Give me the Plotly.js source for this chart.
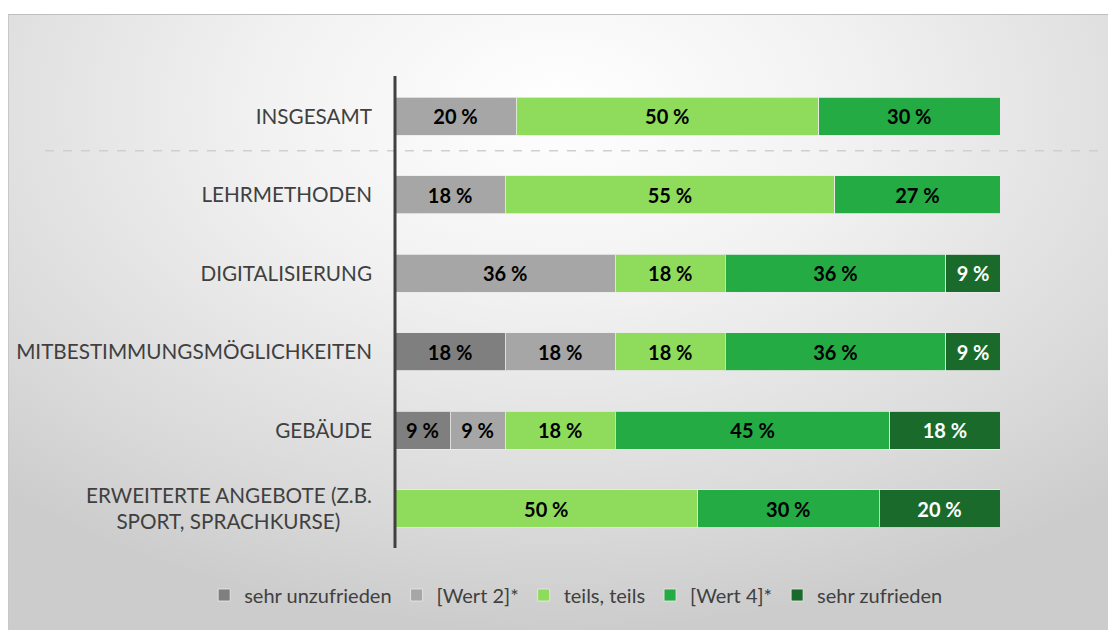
<!DOCTYPE html>
<html>
<head>
<meta charset="utf-8">
<script src="https://cdn.plot.ly/plotly-3.0.1.min.js"></script>
<style>
  html, body { margin: 0; padding: 0; background: #ffffff; }
  #frame {
    position: absolute; left: 8px; top: 14px; width: 1100px; height: 616px;
    background: radial-gradient(ellipse 75% 85% at 50% 15%, #ffffff 0%, #f2f2f2 35%, #d9d9d9 80%, #cccccc 100%);
    border-top: 1px solid #bfbfbf;
    border-left: 1px solid #c8c8c8;
  }
  #chart { position: absolute; left: 0; top: 0; width: 1108px; height: 630px; }
</style>
</head>
<body>
<div id="frame"></div>
<div id="chart"></div>
<script>
const categories = [
  "INSGESAMT",
  "LEHRMETHODEN",
  "DIGITALISIERUNG",
  "MITBESTIMMUNGSMÖGLICHKEITEN",
  "GEBÄUDE",
  "ERWEITERTE ANGEBOTE (Z.B.<br>SPORT, SPRACHKURSE)\u00a0\u00a0\u00a0\u00a0\u00a0\u00a0"
];
const seriesNames = ["sehr unzufrieden", "[Wert 2]*", "teils, teils", "[Wert 4]*", "sehr zufrieden"];
const sehrUnzufrieden = [0, 0, 0, 18.2, 9.1, 0];
const wert2 = [20, 18.2, 36.4, 18.2, 9.1, 0];
const teilsTeils = [50, 54.5, 18.2, 18.2, 18.2, 50];
const wert4 = [30, 27.3, 36.4, 36.4, 45.4, 30];
const sehrZufrieden = [0, 0, 9.1, 9.1, 18.2, 20];

const seriesValues = [sehrUnzufrieden, wert2, teilsTeils, wert4, sehrZufrieden];
const colors = ["#7f7f7f", "#a6a6a6", "#8fdc5c", "#24ab44", "#1a6b2b"];
const textColors = ["#000000", "#000000", "#000000", "#000000", "#ffffff"];
const FONT = "Lato, 'Open Sans', sans-serif";

const traces = seriesValues.map((vals, i) => ({
  type: "bar",
  orientation: "h",
  name: seriesNames[i],
  y: categories,
  x: vals,
  text: vals.map(v => v > 0 ? Math.round(v) + " %" : ""),
  textposition: "inside",
  insidetextanchor: "middle",
  textangle: 0,
  constraintext: "none",
  textfont: { family: FONT, size: 20, color: textColors[i], weight: "bold" },
  marker: { color: colors[i], line: { color: "rgba(235,235,235,0.8)", width: 1 } },
  hoverinfo: "skip"
}));

const layout = {
  width: 1108,
  height: 630,
  paper_bgcolor: "rgba(0,0,0,0)",
  plot_bgcolor: "rgba(0,0,0,0)",
  barmode: "stack",
  bargap: 0.51,
  showlegend: true,
  margin: { l: 0, r: 0, t: 77, b: 82 },
  font: { family: FONT, color: "#404040" },
  xaxis: {
    domain: [395 / 1108, 1000 / 1108],
    range: [0, 100],
    visible: false,
    fixedrange: true
  },
  yaxis: {
    autorange: "reversed",
    automargin: false,
    showline: false,
    zeroline: false,
    showgrid: false,
    ticks: "",
    ticklabelstandoff: 22,
    tickfont: { size: 20.7, color: "#404040", family: FONT },
    fixedrange: true
  },
  legend: {
    orientation: "h",
    x: 0.52, xref: "container", xanchor: "center",
    y: 1 - 595 / 630, yref: "container",
    yanchor: "middle",
    font: { size: 20, color: "#404040" },
    itemwidth: 30,
    traceorder: "normal",
    bgcolor: "rgba(0,0,0,0)"
  },
  shapes: [
    {
      type: "line", xref: "paper", yref: "paper",
      x0: 395 / 1108, x1: 395 / 1108, y0: 0, y1: 1.002,
      line: { color: "#404040", width: 3 }
    },
    {
      type: "line", xref: "paper", yref: "y",
      x0: 45 / 1108, x1: 1102 / 1108, y0: 0.44, y1: 0.44,
      line: { color: "#cfcfcf", width: 1.5, dash: "dash" },
      layer: "below"
    }
  ]
};

Plotly.newPlot("chart", traces, layout, { displayModeBar: false, staticPlot: true });
</script>
</body>
</html>
